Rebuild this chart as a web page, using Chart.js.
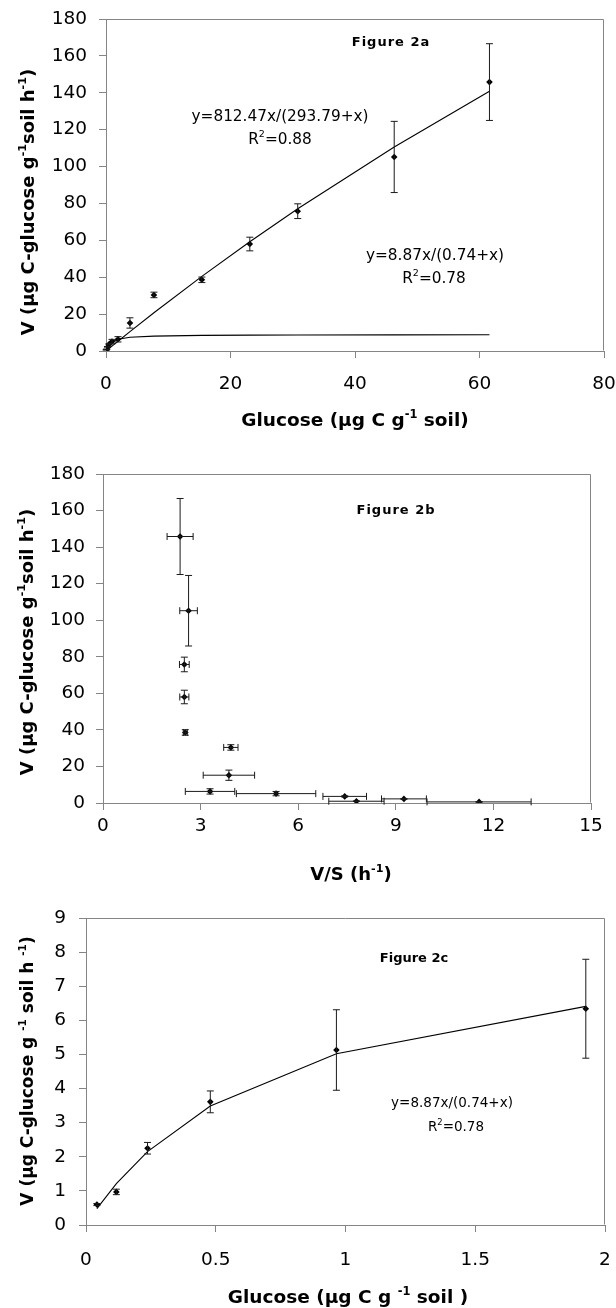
<!DOCTYPE html>
<html>
<head>
<meta charset="utf-8">
<script src="https://cdn.jsdelivr.net/npm/chart.js@4.4.1/dist/chart.umd.min.js"></script>
<style>
  html, body { margin: 0; padding: 0; background: #fff; }
  #page { position: relative; width: 616px; height: 1308px; overflow: hidden; background: #fff; }
  #page canvas { position: absolute; left: 0; }
</style>
</head>
<body>
<div id="page">
  <canvas id="fig2a" width="616" height="440" style="top:0px"></canvas>
  <canvas id="fig2b" width="616" height="450" style="top:440px"></canvas>
  <canvas id="fig2c" width="616" height="418" style="top:890px"></canvas>
</div>
<script>
// Glucose added (µg C g-1 soil)
const glucose = [0.042, 0.117, 0.237, 0.479, 0.965, 1.926, 3.85, 7.7, 15.4, 23.1, 30.8, 46.3, 61.6];
// Uptake rate V (µg C-glucose g-1 soil h-1) and its error
const rateV   = [0.60, 0.97, 2.25, 3.61, 5.13, 6.34, 15.2, 30.4, 38.6, 58.0, 75.8, 105.2, 145.8];
const rateErr = [0.03, 0.08, 0.17, 0.32, 1.18, 1.45, 2.8, 1.5, 1.5, 3.7, 4.0, 19.3, 20.8];
// V/S (h-1) for the same samples, and its error
const vOverS    = [11.56, 7.79, 9.25, 7.43, 5.32, 3.29, 3.87, 3.93, 2.53, 2.50, 2.50, 2.63, 2.37];
const vOverSErr = [1.60, 0.85, 0.69, 0.67, 1.22, 0.76, 0.79, 0.22, 0.06, 0.14, 0.15, 0.27, 0.40];
// Fitted curves at each glucose level
const fitHigh = [0.12, 0.32, 0.66, 1.32, 2.66, 5.29, 10.51, 20.75, 40.47, 59.23, 77.09, 110.61, 140.83]; // y=812.47x/(293.79+x)
const fitLow  = [0.48, 1.21, 2.15, 3.49, 5.02, 6.41, 7.44, 8.09, 8.46, 8.60, 8.66, 8.73, 8.77];         // y=8.87x/(0.74+x)
// Number of low-concentration samples shown in panel c
const lowCount = 6;
// Axis ranges and tick steps
const axisA = { xMin: 0, xMax: 80, xStep: 20, yMin: 0, yMax: 180, yStep: 20 };
const axisB = { xMin: 0, xMax: 15, xStep: 3,  yMin: 0, yMax: 180, yStep: 20 };
const axisC = { xMin: 0, xMax: 2,  xStep: 0.5, yMin: 0, yMax: 9,  yStep: 1 };

const FAMILY = '"DejaVu Sans", "Liberation Sans", Arial, sans-serif';
const FRAME = '#858585';
const INK = '#000';

// ---- plugins ----
const plotFrame = {
  id: 'plotFrame',
  afterDraw(chart) {
    const a = chart.chartArea, ctx = chart.ctx;
    ctx.save();
    ctx.strokeStyle = FRAME;
    ctx.lineWidth = 1;
    const l = Math.round(a.left) + 0.5, r = Math.round(a.right) - 0.5;
    const t = Math.round(a.top) + 0.5, b = Math.round(a.bottom) - 0.5;
    ctx.beginPath();
    ctx.moveTo(l, t); ctx.lineTo(r, t); ctx.lineTo(r, b);
    ctx.stroke();
    ctx.restore();
  }
};

const errorBars = {
  id: 'errorBars',
  afterDatasetsDraw(chart) {
    const ctx = chart.ctx;
    const xs = chart.scales.x, ys = chart.scales.y;
    const cap = 3.5;
    ctx.save();
    ctx.strokeStyle = '#1a1a1a';
    ctx.lineWidth = 1;
    chart.data.datasets.forEach(ds => {
      if (!ds.errorY && !ds.errorX) return;
      ds.data.forEach((p, i) => {
        const px = xs.getPixelForValue(p.x), py = ys.getPixelForValue(p.y);
        ctx.beginPath();
        if (ds.errorY) {
          const e = ds.errorY[i];
          const y1 = ys.getPixelForValue(p.y + e), y2 = ys.getPixelForValue(p.y - e);
          ctx.moveTo(px, y1); ctx.lineTo(px, y2);
          ctx.moveTo(px - cap, y1); ctx.lineTo(px + cap, y1);
          ctx.moveTo(px - cap, y2); ctx.lineTo(px + cap, y2);
        }
        if (ds.errorX) {
          const e = ds.errorX[i];
          const x1 = xs.getPixelForValue(p.x - e), x2 = xs.getPixelForValue(p.x + e);
          ctx.moveTo(x1, py); ctx.lineTo(x2, py);
          ctx.moveTo(x1, py - cap); ctx.lineTo(x1, py + cap);
          ctx.moveTo(x2, py - cap); ctx.lineTo(x2, py + cap);
        }
        ctx.stroke();
      });
    });
    ctx.restore();
  }
};

// text with superscripts; (x, y) is the middle of the capital height
function drawRich(ctx, item) {
  const size = item.size;
  const weight = item.bold ? 'bold ' : '';
  const supSize = size * 0.62;
  const spacing = item.spacing || '0px';
  let total = 0;
  const runs = item.parts.map(p => {
    const s = p.sup ? supSize : size;
    ctx.font = weight + s + 'px ' + FAMILY;
    ctx.letterSpacing = spacing;
    const w = ctx.measureText(p.t).width;
    total += w;
    return { t: p.t, s, w, sup: !!p.sup };
  });
  ctx.save();
  ctx.translate(item.x, item.y);
  if (item.rotate) ctx.rotate(-Math.PI / 2);
  ctx.fillStyle = INK;
  ctx.textAlign = 'left';
  ctx.textBaseline = 'alphabetic';
  const base = size * 0.729 / 2;
  let x = -total / 2;
  runs.forEach(r => {
    ctx.font = weight + r.s + 'px ' + FAMILY;
    ctx.letterSpacing = spacing;
    ctx.fillText(r.t, x, r.sup ? base - size * 0.42 : base);
    x += r.w;
  });
  ctx.restore();
}

const figText = {
  id: 'figText',
  afterDraw(chart, args, opts) {
    (opts.items || []).forEach(it => drawRich(chart.ctx, it));
  }
};

// ---- shared builders ----
// x labels are pushed below the axis through their line height, y labels through padding
function axis(min, max, step, gap, fit, isY) {
  return {
    type: 'linear', min, max,
    ticks: {
      stepSize: step, color: INK, padding: isY ? gap : 0, maxRotation: 0, autoSkip: false,
      font: { family: FAMILY, size: 18.5, lineHeight: isY ? '10px' : (2 * gap) + 'px' },
      callback: v => String(Math.round(v * 100) / 100)
    },
    grid: { drawOnChartArea: false, drawTicks: true, tickLength: 7, tickColor: FRAME, tickWidth: 1 },
    border: { display: true, color: FRAME, width: 1 },
    afterFit(scale) { if (isY) scale.width = fit; else scale.height = fit; }
  };
}

function pointSet(data, errY, errX) {
  return {
    type: 'scatter', data, errorY: errY, errorX: errX,
    pointStyle: 'rectRot', pointRadius: 3.3, pointBackgroundColor: '#000',
    pointBorderColor: '#000', pointBorderWidth: 0, showLine: false
  };
}

function lineSet(data) {
  return {
    type: 'scatter', data, showLine: true, borderColor: '#000', borderWidth: 1.1,
    pointRadius: 0, tension: 0, fill: false
  };
}

function build(id, ax, datasets, layout, texts) {
  return new Chart(document.getElementById(id), {
    type: 'scatter',
    data: { datasets },
    options: {
      responsive: false, animation: false, devicePixelRatio: 1,
      layout: { padding: layout.padding },
      scales: {
        x: axis(ax.xMin, ax.xMax, ax.xStep, layout.xGap, layout.xFit, false),
        y: axis(ax.yMin, ax.yMax, ax.yStep, layout.yGap, layout.yFit, true)
      },
      plugins: {
        legend: { display: false }, tooltip: { enabled: false },
        figText: { items: texts }
      }
    },
    plugins: [errorBars, plotFrame, figText]
  });
}

const pts = (xs, ys) => xs.map((x, i) => ({ x, y: ys[i] }));

const yTitleTight = [
  { t: 'V (µg C-glucose g' }, { t: '-1', sup: true }, { t: 'soil h' }, { t: '-1', sup: true }, { t: ')' }
];

// ---- Figure 2a ----
build('fig2a', axisA, [
  pointSet(pts(glucose, rateV), rateErr, null),
  lineSet(pts(glucose, fitHigh)),
  lineSet(pts(glucose, fitLow))
], {
  padding: { top: 19, right: 12, left: 0, bottom: 0 },
  xFit: 89, yFit: 106, xGap: 26, yGap: 12
}, [
  { x: 27, y: 202, size: 18, bold: true, rotate: true, parts: yTitleTight },
  { x: 355, y: 419, size: 18.5, bold: true, parts: [
    { t: 'Glucose (µg C g' }, { t: '-1', sup: true }, { t: ' soil)' } ] },
  { x: 391, y: 41, size: 13, bold: true, spacing: '1px', parts: [{ t: 'Figure 2a' }] },
  { x: 280, y: 115, size: 15.3, parts: [{ t: 'y=812.47x/(293.79+x)' }] },
  { x: 280, y: 138, size: 15.3, parts: [{ t: 'R' }, { t: '2', sup: true }, { t: '=0.88' }] },
  { x: 435, y: 254, size: 15.3, parts: [{ t: 'y=8.87x/(0.74+x)' }] },
  { x: 434, y: 277, size: 15.3, parts: [{ t: 'R' }, { t: '2', sup: true }, { t: '=0.78' }] }
]);

// ---- Figure 2b ----
build('fig2b', axisB, [
  pointSet(pts(vOverS, rateV), rateErr, vOverSErr)
], {
  padding: { top: 34, right: 25, left: 0, bottom: 0 },
  xFit: 87, yFit: 103, xGap: 16.5, yGap: 11
}, [
  { x: 26, y: 202, size: 18, bold: true, rotate: true, parts: yTitleTight },
  { x: 351, y: 433, size: 18, bold: true, parts: [{ t: 'V/S (h' }, { t: '-1', sup: true }, { t: ')' }] },
  { x: 396, y: 69.5, size: 13, bold: true, spacing: '1px', parts: [{ t: 'Figure 2b' }] }
]);

// ---- Figure 2c ----
const lowGlucose = glucose.slice(0, lowCount);
build('fig2c', axisC, [
  pointSet(pts(lowGlucose, rateV.slice(0, lowCount)), rateErr.slice(0, lowCount), null),
  lineSet(pts(lowGlucose, fitLow.slice(0, lowCount)))
], {
  padding: { top: 28, right: 11, left: 0, bottom: 0 },
  xFit: 83, yFit: 86, xGap: 28, yGap: 13
}, [
  { x: 27, y: 181, size: 17, bold: true, rotate: true, parts: [
    { t: 'V (µg C-glucose g ' }, { t: '-1', sup: true }, { t: ' soil h ' }, { t: '-1', sup: true }, { t: ')' } ] },
  { x: 348, y: 406, size: 18.5, bold: true, parts: [
    { t: 'Glucose (µg C g ' }, { t: '-1', sup: true }, { t: ' soil )' } ] },
  { x: 414, y: 67, size: 13, bold: true, parts: [{ t: 'Figure 2c' }] },
  { x: 452, y: 212, size: 13.5, parts: [{ t: 'y=8.87x/(0.74+x)' }] },
  { x: 456, y: 236, size: 13.5, parts: [{ t: 'R' }, { t: '2', sup: true }, { t: '=0.78' }] }
]);
</script>
</body>
</html>
